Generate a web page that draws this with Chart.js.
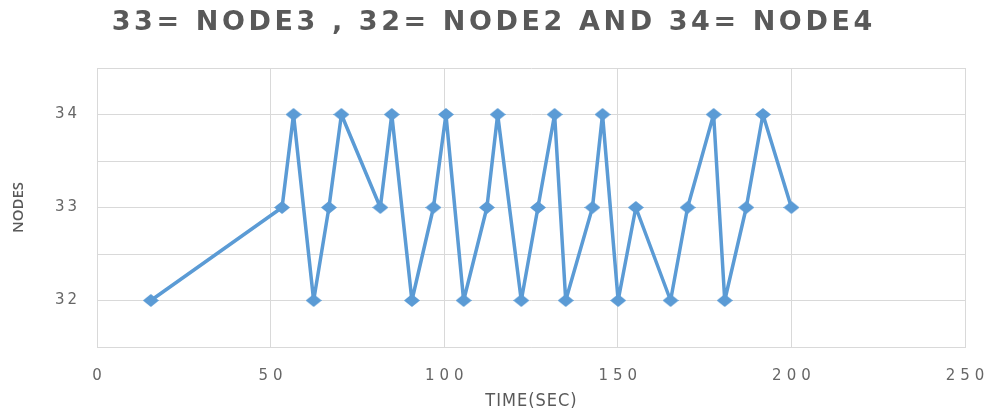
<!DOCTYPE html>
<html><head><meta charset="utf-8">
<script src="https://cdn.jsdelivr.net/npm/chart.js@4/dist/chart.umd.min.js"></script>
<style>html,body{margin:0;padding:0;background:#fff}</style>
</head><body>
<canvas id="c" width="984" height="412"></canvas>
<script>
const chartTitle = '33= NODE3 , 32= NODE2 AND 34= NODE4';
const xAxisTitle = 'TIME(SEC)';
const yAxisTitle = 'NODES';
const timeSec = [15.5, 53.3, 56.6, 62.4, 66.8, 70.4, 81.6, 84.9, 90.7, 96.9, 100.5, 105.6, 112.3, 115.4, 122.2, 127.0, 131.8, 135.0, 142.7, 145.6, 150.1, 155.2, 165.2, 170.1, 177.6, 180.8, 187.0, 191.8, 200.0];
const nodes   = [32, 33, 34, 32, 33, 34, 33, 34, 32, 33, 34, 32, 33, 34, 32, 33, 34, 32, 33, 34, 32, 33, 32, 33, 34, 32, 33, 34, 33];
const xRange = [0, 250];
const xStep = 50;
const yRange = [31.5, 34.5];
const yStep = 0.5;

const blue = '#5B9BD5';
const grey = '#595959';
const tickGrey = '#666666';
const gridC = '#d9d9d9';

// wide diamond marker
const marker = document.createElement('canvas');
marker.width = 16; marker.height = 13;
(function(){
  const g = marker.getContext('2d');
  g.fillStyle = blue;
  g.beginPath();
  g.moveTo(8, 0); g.lineTo(16, 6.5); g.lineTo(8, 13); g.lineTo(0, 6.5); g.closePath();
  g.fill();
})();

// letter spacing for a draw method; shift compensates the trailing gap
function withSpacing(obj, method, sp, shift){
  const orig = obj[method];
  if (!orig || orig.__sp) return;
  const f = function(...a){
    const ctx = this.ctx;
    ctx.save();
    ctx.letterSpacing = sp + 'px';
    ctx.translate(shift * sp, 0);
    try { return orig.apply(this, a); }
    finally { ctx.restore(); ctx.letterSpacing = '0px'; }
  };
  f.__sp = true;
  obj[method] = f;
}

const spacing = {
  id: 'spacing',
  beforeDraw(c){ c.ctx.letterSpacing = '0px'; },
  afterLayout(c){
    withSpacing(c.scales.x, 'drawLabels', 5, 0.5);
    withSpacing(c.scales.x, 'drawTitle', 1, 0.5);
    withSpacing(c.scales.y, 'drawLabels', 3, 1);
    withSpacing(c.scales.y, 'drawTitle', 0, 0);
    if (c.titleBlock) withSpacing(c.titleBlock, 'draw', 3.6, 0.5);
  }
};

new Chart(document.getElementById('c'), {
  type: 'line',
  data: {
    datasets: [{
      data: timeSec.map((t, i) => ({x: t, y: nodes[i]})),
      borderColor: blue,
      backgroundColor: blue,
      borderWidth: 3.5,
      borderJoinStyle: 'round',
      borderCapStyle: 'round',
      pointStyle: marker,
      tension: 0,
      fill: false
    }]
  },
  options: {
    responsive: false,
    animation: false,
    devicePixelRatio: 1,
    layout: { padding: { left: 0, right: 0, top: 0, bottom: 0 } },
    plugins: {
      legend: { display: false },
      tooltip: { enabled: false },
      title: {
        display: true,
        text: chartTitle,
        color: grey,
        font: { family: 'DejaVu Sans', size: 27, weight: 'bold' },
        padding: { top: 7, bottom: 28.6 }
      }
    },
    scales: {
      x: {
        type: 'linear',
        min: xRange[0], max: xRange[1],
        ticks: { stepSize: xStep, color: tickGrey, padding: 20, font: { family: 'DejaVu Sans', size: 15 } },
        grid: { color: gridC, drawTicks: false },
        border: { color: gridC },
        title: { display: true, text: xAxisTitle, color: grey, padding: 0,
          font: { family: "'Liberation Sans Narrow', 'DejaVu Sans Condensed', sans-serif", size: 18 } },
        afterFit(s){ s.height = 65; s.paddingRight = 19; s.paddingLeft = 0; }
      },
      y: {
        min: yRange[0], max: yRange[1],
        ticks: { stepSize: yStep, color: tickGrey, padding: 20, font: { family: 'DejaVu Sans', size: 15 },
          callback: v => Number.isInteger(v) ? v : '' },
        grid: { color: gridC, drawTicks: false },
        border: { color: gridC },
        title: { display: true, text: yAxisTitle, color: grey, padding: { top: 10, bottom: 0 },
          font: { family: 'Open Sans', size: 15, weight: 600 } },
        afterFit(s){ s.width = 97; }
      }
    }
  },
  plugins: [spacing]
});
</script>
</body></html>
